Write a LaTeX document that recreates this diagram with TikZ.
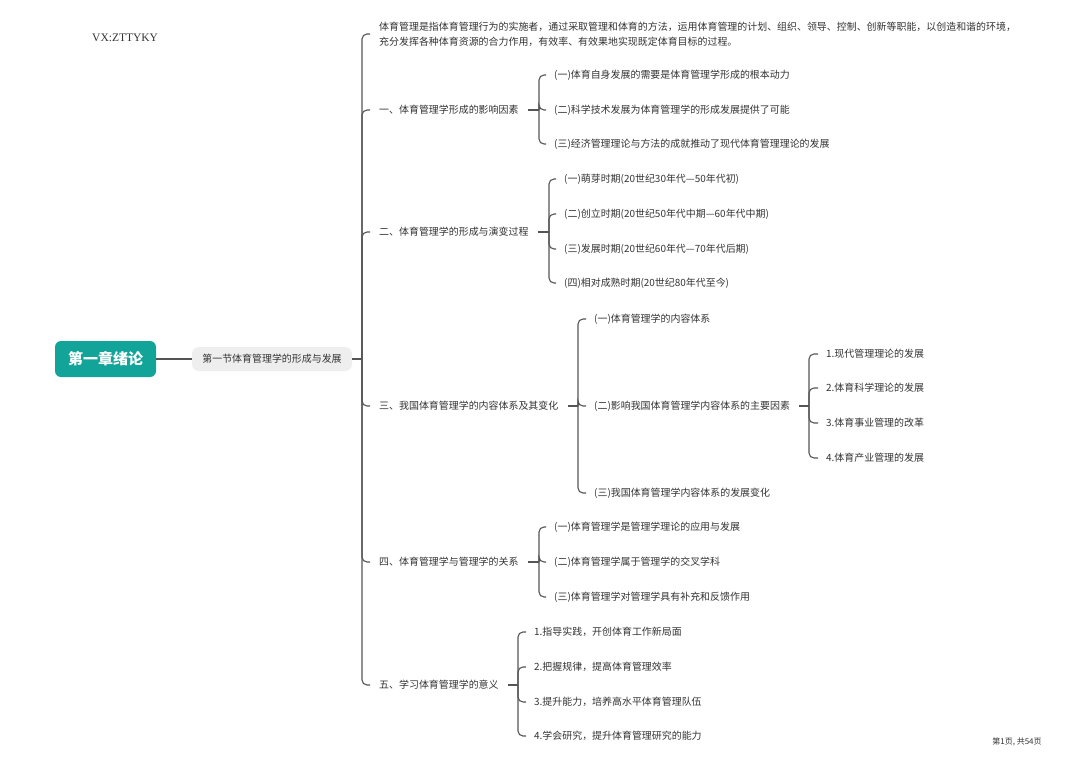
\documentclass[tikz,border=0pt]{standalone}
\usepackage{fontspec}
\setmainfont{Noto Sans CJK SC}
\newfontfamily\wmfont{Liberation Serif}
\definecolor{rootc}{RGB}{18,164,152}
\definecolor{secfill}{RGB}{238,238,238}
\definecolor{linec}{RGB}{85,85,85}
\definecolor{textc}{RGB}{51,51,51}
\begin{document}
\begin{tikzpicture}[x=1pt,y=-1pt,
  conn/.style={draw=linec, line width=1.1pt, rounded corners=5pt},
  txt/.style={anchor=west, inner sep=0pt, text=textc, font=\fontsize{9.95}{15}\selectfont},
  rootbox/.style={fill=rootc, rounded corners=6pt, minimum width=101pt, minimum height=36pt, text=white, font=\fontsize{15}{18}\selectfont\bfseries, inner sep=0pt},
  secbox/.style={fill=secfill, rounded corners=7pt, minimum width=160pt, minimum height=24pt, text=textc, font=\fontsize{9.95}{12}\selectfont, inner sep=0pt},
]
\fill[white] (0,0) rectangle (1080,764);
\useasboundingbox (0,0) rectangle (1080,764);

% watermark and page number
\node[anchor=west, inner sep=0pt, text=textc, font=\wmfont\fontsize{11.5}{13}\selectfont] (wm) at (92,38) {VX:ZTTYKY};
\node[inner sep=0pt, text=textc, font=\fontsize{8}{9}\selectfont] (pg) at (1017,742) {第1页, 共54页};

% root and section
\node[rootbox] (root) at (105.5,359) {第一章绪论};
\node[secbox] (sec) at (272,359) {第一节体育管理学的形成与发展};
\coordinate (J0) at (362,359);
\draw[conn] (root) -- (sec);
\draw[conn] (sec) -- (J0);

% main children
\node[txt, align=left] (desc) at (379,34) {体育管理是指体育管理行为的实施者，通过采取管理和体育的方法，运用体育管理的计划、组织、领导、控制、创新等职能，以创造和谐的环境，\\充分发挥各种体育资源的合力作用，有效率、有效果地实现既定体育目标的过程。};
\node[txt] (a1) at (379,110) {一、体育管理学形成的影响因素};
\node[txt] (a2) at (379,232) {二、体育管理学的形成与演变过程};
\node[txt] (a3) at (379,406) {三、我国体育管理学的内容体系及其变化};
\node[txt] (a4) at (379,562) {四、体育管理学与管理学的关系};
\node[txt] (a5) at (379,685) {五、学习体育管理学的意义};
\foreach \n in {desc,a1,a2,a3,a4,a5} \draw[conn] (J0) |- ([xshift=-9pt]\n.west);

% branch 1
\coordinate (J1) at (539,110);
\node[txt] (b1) at (554,75) {(一)体育自身发展的需要是体育管理学形成的根本动力};
\node[txt] (b2) at (554,110) {(二)科学技术发展为体育管理学的形成发展提供了可能};
\node[txt] (b3) at (554,144) {(三)经济管理理论与方法的成就推动了现代体育管理理论的发展};
\draw[conn] ([xshift=9pt]a1.east) -- (J1);
\foreach \n in {b1,b2,b3} \draw[conn] (J1) |- ([xshift=-8pt]\n.west);

% branch 2
\coordinate (J2) at (549,232);
\node[txt] (c1) at (564,179) {(一)萌芽时期(20世纪30年代—50年代初)};
\node[txt] (c2) at (564,214) {(二)创立时期(20世纪50年代中期—60年代中期)};
\node[txt] (c3) at (564,249) {(三)发展时期(20世纪60年代—70年代后期)};
\node[txt] (c4) at (564,283) {(四)相对成熟时期(20世纪80年代至今)};
\draw[conn] ([xshift=9pt]a2.east) -- (J2);
\foreach \n in {c1,c2,c3,c4} \draw[conn] (J2) |- ([xshift=-8pt]\n.west);

% branch 3
\coordinate (J3) at (578,406);
\node[txt] (d1) at (594,319) {(一)体育管理学的内容体系};
\node[txt] (d2) at (594,406) {(二)影响我国体育管理学内容体系的主要因素};
\node[txt] (d3) at (594,493) {(三)我国体育管理学内容体系的发展变化};
\draw[conn] ([xshift=9pt]a3.east) -- (J3);
\foreach \n in {d1,d2,d3} \draw[conn] (J3) |- ([xshift=-8pt]\n.west);

\coordinate (J3b) at (809,406);
\node[txt] (e1) at (826,354) {1.现代管理理论的发展};
\node[txt] (e2) at (826,388) {2.体育科学理论的发展};
\node[txt] (e3) at (826,423) {3.体育事业管理的改革};
\node[txt] (e4) at (826,458) {4.体育产业管理的发展};
\draw[conn] ([xshift=9pt]d2.east) -- (J3b);
\foreach \n in {e1,e2,e3,e4} \draw[conn] (J3b) |- ([xshift=-8pt]\n.west);

% branch 4
\coordinate (J4) at (539,562);
\node[txt] (f1) at (554,527) {(一)体育管理学是管理学理论的应用与发展};
\node[txt] (f2) at (554,562) {(二)体育管理学属于管理学的交叉学科};
\node[txt] (f3) at (554,597) {(三)体育管理学对管理学具有补充和反馈作用};
\draw[conn] ([xshift=9pt]a4.east) -- (J4);
\foreach \n in {f1,f2,f3} \draw[conn] (J4) |- ([xshift=-8pt]\n.west);

% branch 5
\coordinate (J5) at (518,685);
\node[txt] (g1) at (534,632) {1.指导实践，开创体育工作新局面};
\node[txt] (g2) at (534,667) {2.把握规律，提高体育管理效率};
\node[txt] (g3) at (534,702) {3.提升能力，培养高水平体育管理队伍};
\node[txt] (g4) at (534,736) {4.学会研究，提升体育管理研究的能力};
\draw[conn] ([xshift=9pt]a5.east) -- (J5);
\foreach \n in {g1,g2,g3,g4} \draw[conn] (J5) |- ([xshift=-8pt]\n.west);
\end{tikzpicture}
\end{document}
